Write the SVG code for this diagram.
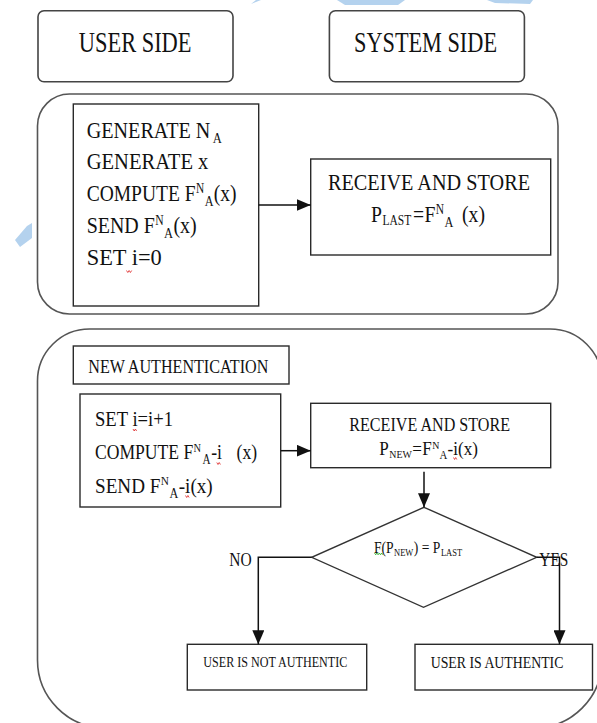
<svg xmlns="http://www.w3.org/2000/svg" width="597" height="723" viewBox="0 0 597 723">
<style>
text{font-family:"Liberation Serif","Times New Roman",serif;fill:#111;}
.f30{font-size:30px}.f24{font-size:24px}.f22{font-size:22px}.f19{font-size:19px}.f17{font-size:17px}.f16{font-size:16px}.f15{font-size:15px}.f14{font-size:14px}.f13{font-size:13px}.f12{font-size:12px}.f11{font-size:11px}.f10{font-size:10px}
.outer{fill:none;stroke:#555;stroke-width:1.6;}
.box{fill:#fff;stroke:#2a2a2a;stroke-width:1.4;}
.hdr{fill:#fff;stroke:#444;stroke-width:1.6;}
.con{fill:none;stroke:#111;stroke-width:1.5;}
.sq{fill:none;stroke:#d22;stroke-width:0.8;}
.sqg{fill:none;stroke:#2a2;stroke-width:0.8;}
.wm{fill:#b4d2ee;}
</style>
<defs>
<marker id="ah" markerUnits="userSpaceOnUse" markerWidth="14" markerHeight="12" refX="14" refY="6" orient="auto">
<path d="M0,0 L14,6 L0,12 Z" fill="#111"/>
</marker>
</defs>
<rect width="597" height="723" fill="#fff"/>
<g id="watermark">
<polygon class="wm" points="251,4 256,0 261,0"/>
<polygon class="wm" points="337,0 405,0 398,5 345,5"/>
<polygon class="wm" points="487,0 533,0 530,4 495,3"/>
<polygon class="wm" points="15,240 27,226 32,223 32,238 20,247"/>
</g>
<g id="user-side">
<rect class="hdr" x="38" y="10.7" width="195" height="71" rx="6"/>
<text class="f30" x="78.8" y="52" textLength="112.7" lengthAdjust="spacingAndGlyphs">USER SIDE</text>
</g>
<g id="system-side">
<rect class="hdr" x="329.4" y="10.7" width="195" height="71" rx="6"/>
<text class="f30" x="354" y="52" textLength="143" lengthAdjust="spacingAndGlyphs">SYSTEM SIDE</text>
</g>
<g id="registration">
<rect class="outer" x="37.5" y="94" width="520.5" height="220" rx="32"/>
</g>
<g id="user-init">
<rect class="box" x="73.3" y="104" width="185.4" height="202"/>
<g transform="matrix(0.84 0 0 1 13.872 0)">
<text class="f24" x="86.7" y="137.7">GENERATE N</text>
<text class="f15" x="236.9" y="142.7">A</text>
</g>
<text class="f24" x="86.7" y="169.3" textLength="121.7" lengthAdjust="spacingAndGlyphs">GENERATE x</text>
<g transform="matrix(0.813 0 0 1 16.213 0)">
<text class="f24" x="86.7" y="201">COMPUTE F</text>
<text class="f14" x="221.2" y="193">N</text>
<text class="f15" x="231.8" y="206">A</text>
<text class="f24" x="243.1" y="201">(x)</text>
</g>
<g transform="matrix(0.831 0 0 1 14.652 0)">
<text class="f24" x="86.7" y="232.7">SEND F</text>
<text class="f14" x="169.2" y="224.7">N</text>
<text class="f15" x="179.8" y="237.7">A</text>
<text class="f24" x="191.1" y="232.7">(x)</text>
</g>
<text class="f24" x="86.7" y="265" textLength="75" lengthAdjust="spacingAndGlyphs">SET i=0</text>
<path class="sq" d="M126.5,270.5 l1.3,2 l1.3,-2 l1.3,2 l1.3,-2"/>
</g>
<g id="system-store">
<rect class="box" x="310.7" y="159" width="240" height="96"/>
<text class="f24" x="328" y="190" textLength="202" lengthAdjust="spacingAndGlyphs">RECEIVE AND STORE</text>
<g transform="matrix(0.82 0 0 1 66.78 0)">
<text class="f24" x="371" y="221.7">P</text>
<text class="f14" x="385.02" y="225.5">LAST</text>
<text class="f24" x="422.22" y="221.7">=</text>
<text class="f24" x="436.24" y="221.7">F</text>
<text class="f14" x="450.02" y="213.7">N</text>
<text class="f15" x="460.63" y="226.7">A</text>
<text class="f24" x="481.98" y="221.7">(x)</text>
</g>
</g>
<g id="authentication">
<path class="outer" d="M89.5,329 H550 A52,52 0 0 1 602,381 V660 A68,68 0 0 1 534,728 H105.5 A68,68 0 0 1 37.5,660 V381 A52,52 0 0 1 89.5,329 Z"/>
</g>
<g id="new-auth-label">
<rect class="box" x="73.3" y="346" width="215.7" height="38"/>
<text class="f19" x="88.3" y="372.7" textLength="180" lengthAdjust="spacingAndGlyphs">NEW AUTHENTICATION</text>
</g>
<g id="user-auth">
<rect class="box" x="80" y="394" width="200.7" height="113"/>
<text class="f22" x="95" y="426" textLength="78" lengthAdjust="spacingAndGlyphs">SET i=i+1</text>
<path class="sq" d="M133,429 l1.2,2 l1.2,-2 l1.2,2"/>
<g transform="matrix(0.8 0 0 1 19 0)">
<text class="f22" x="95" y="459.3">COMPUTE F</text>
<text class="f13" x="218.25" y="452">N</text>
<text class="f14" x="229.4" y="464.3">A</text>
<text class="f22" x="240.2" y="459.3">-i</text>
<text class="f22" x="272" y="459.3">(x)</text>
</g>
<path class="sq" d="M216.8,462.5 l1.2,2 l1.2,-2 l1.2,2"/>
<g transform="matrix(0.87 0 0 1 12.35 0)">
<text class="f22" x="95" y="492.7">SEND F</text>
<text class="f13" x="170.7" y="485.4">N</text>
<text class="f14" x="180.6" y="497.7">A</text>
<text class="f22" x="191.2" y="492.7">-i(x)</text>
</g>
<path class="sq" d="M185.5,495.5 l1.2,2 l1.2,-2 l1.2,2"/>
</g>
<g id="system-receive">
<rect class="box" x="310.7" y="403.3" width="240" height="64.4"/>
<text class="f19" x="349.3" y="430.7" textLength="160.7" lengthAdjust="spacingAndGlyphs">RECEIVE AND STORE</text>
<g transform="matrix(0.9 0 0 1 37.93 0)">
<text class="f19" x="379.3" y="455">P</text>
<text class="f11" x="390.4" y="458">NEW</text>
<text class="f19" x="415.97" y="455">=</text>
<text class="f19" x="427.08" y="455">F</text>
<text class="f11" x="438.08" y="449">N</text>
<text class="f12" x="446.3" y="459">A</text>
<text class="f19" x="455.08" y="455">-i(x)</text>
</g>
<path class="sq" d="M453.5,457.5 l1.1,2 l1.1,-2 l1.1,2"/>
</g>
<g id="check">
<polygon fill="#fff" stroke="#333" stroke-width="1.4" points="424,507.3 536.7,557.3 423.5,607.3 311.7,557.3"/>
<g transform="matrix(0.85 0 0 1 56.1 0)">
<text class="f16" x="374" y="553.3">F(P</text>
<text class="f10" x="397.6" y="556">NEW</text>
<text class="f16" x="420.9" y="553.3">) = P</text>
<text class="f10" x="452.7" y="556">LAST</text>
</g>
<path class="sqg" d="M374.5,553 l1.2,1.8 l1.2,-1.8 l1.2,1.8 l1.2,-1.8 l1.2,1.8 l1.2,-1.8 l1.2,1.8"/>
</g>
<g id="not-authentic">
<rect class="box" x="187.3" y="644.3" width="179.4" height="45.7"/>
<text class="f15" x="203.3" y="667.3" textLength="144" lengthAdjust="spacingAndGlyphs">USER IS NOT AUTHENTIC</text>
</g>
<g id="authentic">
<rect class="box" x="415" y="644.3" width="177.5" height="45.7"/>
<text class="f17" x="430.7" y="668.3" textLength="132.7" lengthAdjust="spacingAndGlyphs">USER IS AUTHENTIC</text>
</g>
<g id="connectors">
<line class="con" x1="258.7" y1="205" x2="310.7" y2="205" marker-end="url(#ah)"/>
<line class="con" x1="280.7" y1="450.7" x2="310.7" y2="450.7" marker-end="url(#ah)"/>
<line class="con" x1="424" y1="471.7" x2="424" y2="507.3" marker-end="url(#ah)"/>
<polyline class="con" points="311.7,557.3 258.3,557.3 258.3,644.3" marker-end="url(#ah)"/>
<polyline class="con" points="536.7,557.3 559.5,557.3 559.5,644.3" marker-end="url(#ah)"/>
<text class="f19" x="229.3" y="565.7" textLength="22.4" lengthAdjust="spacingAndGlyphs">NO</text>
<text class="f19" x="539.3" y="565.7" textLength="29" lengthAdjust="spacingAndGlyphs">YES</text>
</g>
</svg>
